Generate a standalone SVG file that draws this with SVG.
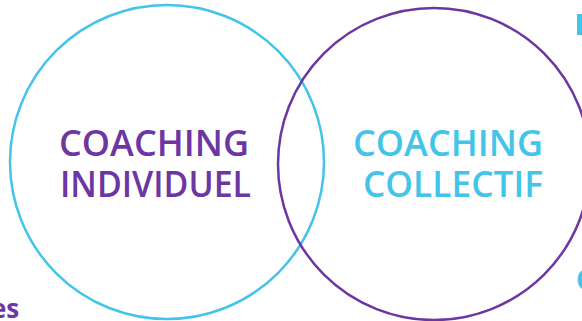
<svg xmlns="http://www.w3.org/2000/svg" width="582" height="321" viewBox="0 0 582 321">
<style>
.c{fill:none;stroke-width:2.5}
.t{font-family:"Open Sans","DejaVu Sans",sans-serif;font-weight:600;font-size:36px}
.cy{fill:#45c4ea}
.pu{fill:#6c36a3}
</style>
<rect width="582" height="321" fill="#fff"/>
<g id="individuel">
<circle class="c" cx="167" cy="162" r="157" stroke="#45c4ea"/>
<text class="t pu" x="59" y="156" textLength="190" lengthAdjust="spacingAndGlyphs">COACHING</text>
<text class="t pu" x="60" y="197" textLength="191" lengthAdjust="spacingAndGlyphs">INDIVIDUEL</text>
</g>
<g id="collectif">
<circle class="c" cx="434" cy="164" r="156" stroke="#6c36a3"/>
<text class="t cy" x="353" y="156" textLength="190" lengthAdjust="spacingAndGlyphs">COACHING</text>
<text class="t cy" x="363" y="197" textLength="180" lengthAdjust="spacingAndGlyphs">COLLECTIF</text>
</g>
<g id="fragments">
<rect x="577" y="14" width="5" height="21" fill="#45c4ea"/>
<text x="576" y="290" font-family="Open Sans,sans-serif" font-weight="700" font-size="28" class="cy">C</text>
<text x="-9" y="318" font-family="Open Sans,sans-serif" font-weight="700" font-size="26" class="pu">es</text>
</g>
<g id="connectors"/>
</svg>
